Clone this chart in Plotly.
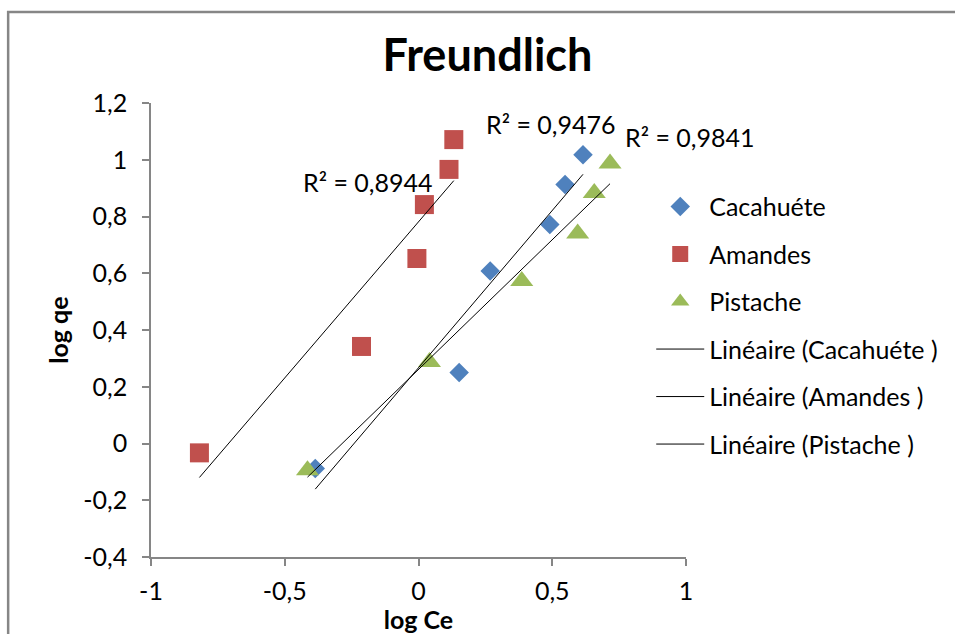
import numpy as np
import plotly.graph_objects as go

# ---- data ----
caca_x = [-0.386, 0.152, 0.268, 0.491, 0.548, 0.615]
caca_y = [-0.088, 0.250, 0.608, 0.772, 0.913, 1.018]
aman_x = [-0.819, -0.213, -0.006, 0.022, 0.114, 0.132]
aman_y = [-0.033, 0.342, 0.652, 0.842, 0.966, 1.071]
pist_x = [-0.415, 0.041, 0.386, 0.595, 0.657, 0.716]
pist_y = [-0.094, 0.287, 0.573, 0.740, 0.883, 0.987]

series_names = ["Cacahuéte", "Amandes", "Pistache"]
trend_names = ["Linéaire (Cacahuéte )", "Linéaire (Amandes )", "Linéaire (Pistache )"]
r2_labels = ["R² = 0,9476", "R² = 0,8944", "R² = 0,9841"]

x_tickvals = [-1, -0.5, 0, 0.5, 1]
x_ticktext = ["-1", "-0,5", "0", "0,5", "1"]
y_tickvals = [-0.4, -0.2, 0, 0.2, 0.4, 0.6, 0.8, 1.0, 1.2]
y_ticktext = ["-0,4", "-0,2", "0", "0,2", "0,4", "0,6", "0,8", "1", "1,2"]

FONT = "Lato"
FS = 25
colors = ["#4F81BD", "#C0504D", "#9BBB59"]
symbols = ["diamond", "square", "triangle-up"]
sizes = [15, 19, 20]

fig = go.Figure()
xs = [caca_x, aman_x, pist_x]
ys = [caca_y, aman_y, pist_y]

for i in range(3):
    fig.add_trace(go.Scatter(
        x=xs[i], y=ys[i], mode="markers", name=series_names[i],
        legendgroup=f"g{i}",
        marker=dict(color=colors[i], symbol=symbols[i], size=sizes[i], line=dict(width=0)),
    ))

for i in range(3):
    xa = np.array(xs[i]); ya = np.array(ys[i])
    m, b = np.polyfit(xa, ya, 1)
    xl = np.array([xa.min(), xa.max()])
    fig.add_trace(go.Scatter(
        x=xl, y=m * xl + b, mode="lines", name=trend_names[i],
        legendgroup=f"t{i}",
        line=dict(color="black", width=1),
    ))

# R² annotations (paper coordinates, near the trendline ends)
ann_pos = [(0.747, 0.954), (0.406, 0.826), (1.0075, 0.925)]
for lab, (ax_, ay_) in zip(r2_labels, ann_pos):
    fig.add_annotation(x=ax_, y=ay_, xref="paper", yref="paper", text=lab, showarrow=False,
                       xanchor="center", yanchor="middle",
                       font=dict(family=FONT, size=FS, color="#000000"))

axis_common = dict(showline=True, linecolor="#868686", linewidth=1.5, ticks="outside",
                   ticklen=7, tickcolor="#868686", tickwidth=1.5, showgrid=False, zeroline=False,
                   automargin=False,
                   tickfont=dict(family=FONT, size=FS, color="#000000"))

fig.update_xaxes(range=[-1, 1], tickvals=x_tickvals, ticktext=x_ticktext, ticklabelstandoff=4,
                 title=dict(text="<b>log Ce</b>", font=dict(family=FONT, size=FS, color="#000000"), standoff=3),
                 **axis_common)
fig.update_yaxes(range=[-0.4, 1.2], tickvals=y_tickvals, ticktext=y_ticktext, ticklabelstandoff=10,
                 title=dict(text="<b>log qe</b>", font=dict(family=FONT, size=FS, color="#000000"), standoff=8),
                 **axis_common)

fig.add_shape(type="rect", xref="paper", yref="paper",
              x0=-0.267, x1=2.0, y0=-0.6, y1=1.2004,
              line=dict(color="#868686", width=2.5), fillcolor="rgba(0,0,0,0)", layer="below")

fig.update_layout(
    width=955, height=634,
    margin=dict(l=151, r=269, t=103, b=77, autoexpand=False),
    paper_bgcolor="white", plot_bgcolor="white",
    title=dict(text="<b>Freundlich</b>", x=(487.5) / 955, xanchor="center", y=1 - 55 / 634, yanchor="middle",
               font=dict(family=FONT, size=45, color="#000000")),
    showlegend=True,
    legend=dict(x=0.935, xanchor="left", y=0.822, yanchor="top", tracegroupgap=12,
                itemwidth=48, font=dict(family=FONT, size=FS, color="#000000"),
                bgcolor="rgba(0,0,0,0)"),
)

fig.write_html("out.html")
